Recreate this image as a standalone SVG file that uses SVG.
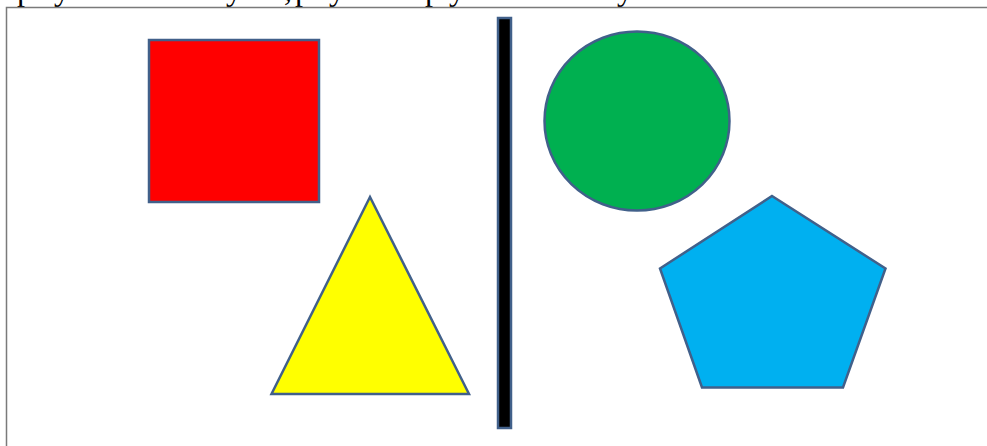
<svg xmlns="http://www.w3.org/2000/svg" width="987" height="446" viewBox="0 0 987 446">
<style>
.shape{stroke:#41608A;stroke-width:2.5;stroke-linejoin:miter}
.frame{fill:none;stroke:#7a7a7a;stroke-width:1.5}
.cut{font-family:"Liberation Serif","DejaVu Serif",serif;font-size:32px;fill:#000}
</style>
<rect width="987" height="446" fill="#ffffff"/>
<text class="cut" y="0"><tspan x="17">р</tspan><tspan x="54">у</tspan><tspan x="226">у</tspan><tspan x="284">,</tspan><tspan x="295">р</tspan><tspan x="329">у</tspan><tspan x="425">р</tspan><tspan x="449">у</tspan><tspan x="617">у</tspan></text>
<rect class="frame" x="6.5" y="7.5" width="990" height="450"/>
<g id="square"><rect class="shape" x="149" y="40" width="170" height="162" fill="#FF0000"/></g>
<g id="triangle"><polygon class="shape" points="370,197 271.5,394 469,394" fill="#FFFF00"/></g>
<g id="divider"><rect class="shape" x="498" y="18" width="13" height="410" fill="#000000" stroke-width="1.5"/></g>
<g id="circle"><ellipse class="shape" cx="637" cy="121" rx="92.5" ry="89.5" fill="#00B050"/></g>
<g id="pentagon"><polygon class="shape" points="772,196 885.5,268.5 843,387.5 702,387.5 660,268.5" fill="#00B0F0"/></g>
<g id="connectors"></g>
</svg>
